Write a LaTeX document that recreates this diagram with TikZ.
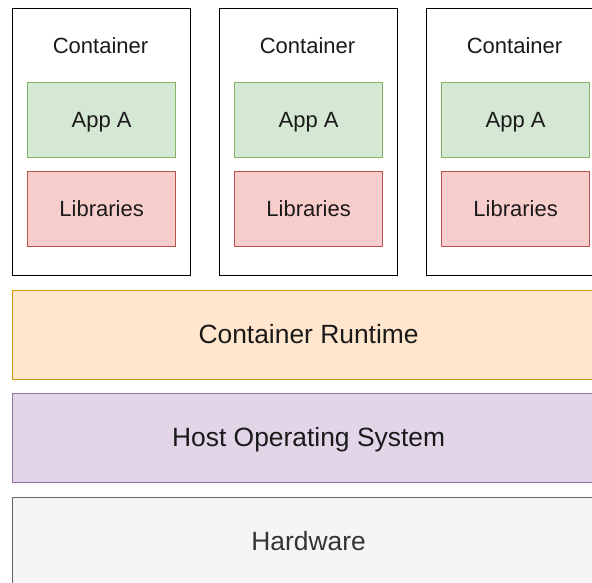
\documentclass[tikz,border=0pt]{standalone}
\usepackage{fontspec}
\setmainfont{Liberation Sans}

\definecolor{appfill}{HTML}{D5E8D4}
\definecolor{appline}{HTML}{82B366}
\definecolor{libfill}{HTML}{F8CECC}
\definecolor{libline}{HTML}{B85450}
\definecolor{rtfill}{HTML}{FFE6CC}
\definecolor{rtline}{HTML}{D79B00}
\definecolor{osfill}{HTML}{E1D5E7}
\definecolor{osline}{HTML}{9673A6}
\definecolor{hwfill}{HTML}{F5F5F5}
\definecolor{hwline}{HTML}{666666}
\definecolor{hwtext}{HTML}{333333}
\definecolor{ink}{HTML}{1A1A1A}

\begin{document}
\begin{tikzpicture}[x=1pt,y=-1pt,
  base/.style={draw, line width=1.2pt, inner sep=0pt, anchor=north west, text=ink},
  % labels are centred on their capital letters
  smalltext/.style={font=\fontsize{22}{26}\selectfont, text height=15.75pt, text depth=0pt},
  bigtext/.style={font=\fontsize{26.4}{31}\selectfont, text height=16.9pt, text depth=0pt},
  containerbox/.style={base, draw=black, fill=white, minimum width=178pt, minimum height=267pt},
  caption/.style={inner sep=0pt, text=ink, smalltext},
  appbox/.style={base, draw=appline, fill=appfill, minimum width=148pt, minimum height=75pt, smalltext},
  libbox/.style={base, draw=libline, fill=libfill, minimum width=148pt, minimum height=75pt, smalltext},
  layer/.style={base, minimum width=592pt, minimum height=89pt, bigtext},
]
\useasboundingbox (0,0) rectangle (592,582);
\clip (0,0) rectangle (592,582);
\fill[white] (0,0) rectangle (592,582);

% three containers, each holding an application and its libraries
\foreach \i/\x in {1/12, 2/219, 3/426} {
  \node[containerbox] (c\i) at (\x,8) {};
  \node[caption] (t\i) at (\x+88.5,46) {Container};
  \node[appbox] (a\i) at (\x+15,82) {App A};
  \node[libbox] (l\i) at (\x+15,171) {Libraries};
}

% the shared layers underneath
\node[layer, draw=rtline, fill=rtfill] (runtime) at (12,290) {Container Runtime};
\node[layer, draw=osline, fill=osfill] (hostos) at (12,393) {Host Operating System};
\node[layer, draw=hwline, fill=hwfill, text=hwtext] (hardware) at (12,497) {Hardware};
\end{tikzpicture}
\end{document}
